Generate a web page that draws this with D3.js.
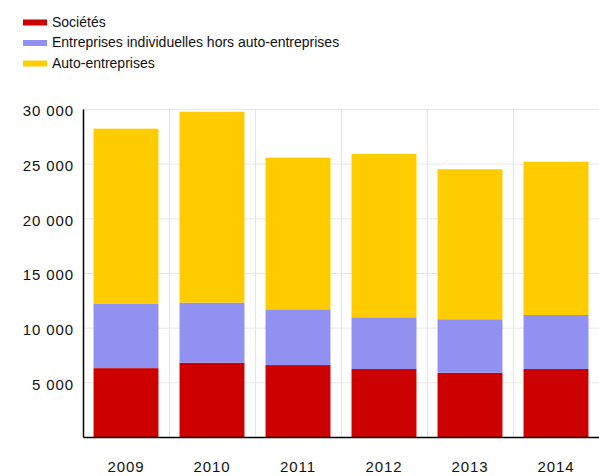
<!DOCTYPE html>
<html>
<head>
<meta charset="utf-8">
<script src="https://cdn.jsdelivr.net/npm/d3@7"></script>
<style>
  body { margin: 0; background: #fff; }
  #chart { width: 599px; height: 476px; }
  text { font-family: "Liberation Sans", Arial, sans-serif; fill: #111; }
</style>
</head>
<body>
<div id="chart"></div>
<script>
//Données
const years = ['2009', '2010', '2011', '2012', '2013', '2014'];
const societes = [6300, 6800, 6580, 6220, 5880, 6220];
const individuelles = [5870, 5490, 5100, 4730, 4890, 4940];
const autoEntreprises = [16030, 17460, 13870, 14940, 13720, 14020];
const seriesNames = ['Sociétés', 'Entreprises individuelles hors auto-entreprises', 'Auto-entreprises'];
const yTicks = [5000, 10000, 15000, 20000, 25000, 30000];

//Couleurs
const COLORS = ['#cc0000', '#9191f2', '#ffcc00'];

let margin = {top: 109, right: 0, bottom: 39, left: 83},
    width = 599 - margin.left - margin.right,
    height = 476 - margin.top - margin.bottom;

let svg = d3.select('#chart')
    .append('svg')
        .attr('width', width + margin.left + margin.right)
        .attr('height', height + margin.top + margin.bottom);

let g = svg.append('g')
    .attr('transform', 'translate(' + margin.left + ',' + margin.top + ')');

let data = years.map(function(y, i) {
    return {year: y, s0: societes[i], s1: individuelles[i], s2: autoEntreprises[i]};
});

let stack = d3.stack().keys(['s0', 's1', 's2']);
let stacked = stack(data);

let x = d3.scaleBand()
    .domain(years)
    .range([0, width])
    .paddingInner(0.245)
    .paddingOuter(0.1225);

let y = d3.scaleLinear()
    .domain([0, 30000])
    .range([height, 0]);

let fmt = function(d) { return d3.format(',')(d).replace(',', ' '); };

//Grille horizontale
g.append('g')
    .selectAll('line')
    .data(yTicks)
    .enter()
    .append('line')
    .attr('x1', 0)
    .attr('x2', width)
    .attr('y1', function(d) { return y(d) + 0.5; })
    .attr('y2', function(d) { return y(d) + 0.5; })
    .attr('stroke', '#e8e8e8')
    .attr('stroke-width', 1);

//Grille verticale
let step = x.step();
g.append('g')
    .selectAll('line')
    .data(years.slice(1))
    .enter()
    .append('line')
    .attr('x1', function(d) { return Math.round(x(d) - step * x.paddingInner() / 2) + 0.5; })
    .attr('x2', function(d) { return Math.round(x(d) - step * x.paddingInner() / 2) + 0.5; })
    .attr('y1', 0)
    .attr('y2', height)
    .attr('stroke', '#dfe6f2')
    .attr('stroke-width', 1);

//Barres
g.selectAll('.serie')
    .data(stacked)
    .enter()
    .append('g')
    .attr('class', 'serie')
    .attr('fill', function(d, i) { return COLORS[i]; })
    .selectAll('rect')
    .data(function(d) { return d; })
    .enter()
    .append('rect')
    .attr('x', function(d) { return x(d.data.year); })
    .attr('y', function(d) { return y(d[1]); })
    .attr('width', x.bandwidth())
    .attr('height', function(d) { return y(d[0]) - y(d[1]); });

//Axe Y
let yAxis = g.append('g')
    .call(d3.axisLeft(y).tickValues(yTicks).tickSize(0).tickPadding(9).tickFormat(fmt));
yAxis.select('.domain').attr('stroke', '#000').attr('stroke-width', 1.5);
yAxis.selectAll('.tick text')
    .attr('font-size', 15)
    .attr('letter-spacing', '0.9px')
    .attr('dy', '0.45em')
    .attr('font-family', '"Liberation Sans", Arial, sans-serif')
    .attr('fill', '#111');

//Axe X
let xAxis = g.append('g')
    .attr('transform', 'translate(0,' + height + ')')
    .call(d3.axisBottom(x).tickSize(0).tickPadding(24));
xAxis.select('.domain').attr('stroke', '#000').attr('stroke-width', 1.5);
xAxis.selectAll('.tick text')
    .attr('font-size', 15)
    .attr('letter-spacing', '0.9px')
    .attr('font-family', '"Liberation Sans", Arial, sans-serif')
    .attr('fill', '#111');

//Légende
let legend = svg.append('g')
    .attr('transform', 'translate(23,22)');

let items = legend.selectAll('g')
    .data(seriesNames)
    .enter()
    .append('g')
    .attr('transform', function(d, i) { return 'translate(0,' + (i * 20.5) + ')'; });

items.append('rect')
    .attr('x', 0)
    .attr('y', -2.5)
    .attr('width', 24)
    .attr('height', 6)
    .attr('fill', function(d, i) { return COLORS[i]; });

items.append('text')
    .attr('x', 29)
    .attr('y', 0)
    .attr('dy', '0.35em')
    .attr('font-size', 14)
    .text(function(d) { return d; });
</script>
</body>
</html>
